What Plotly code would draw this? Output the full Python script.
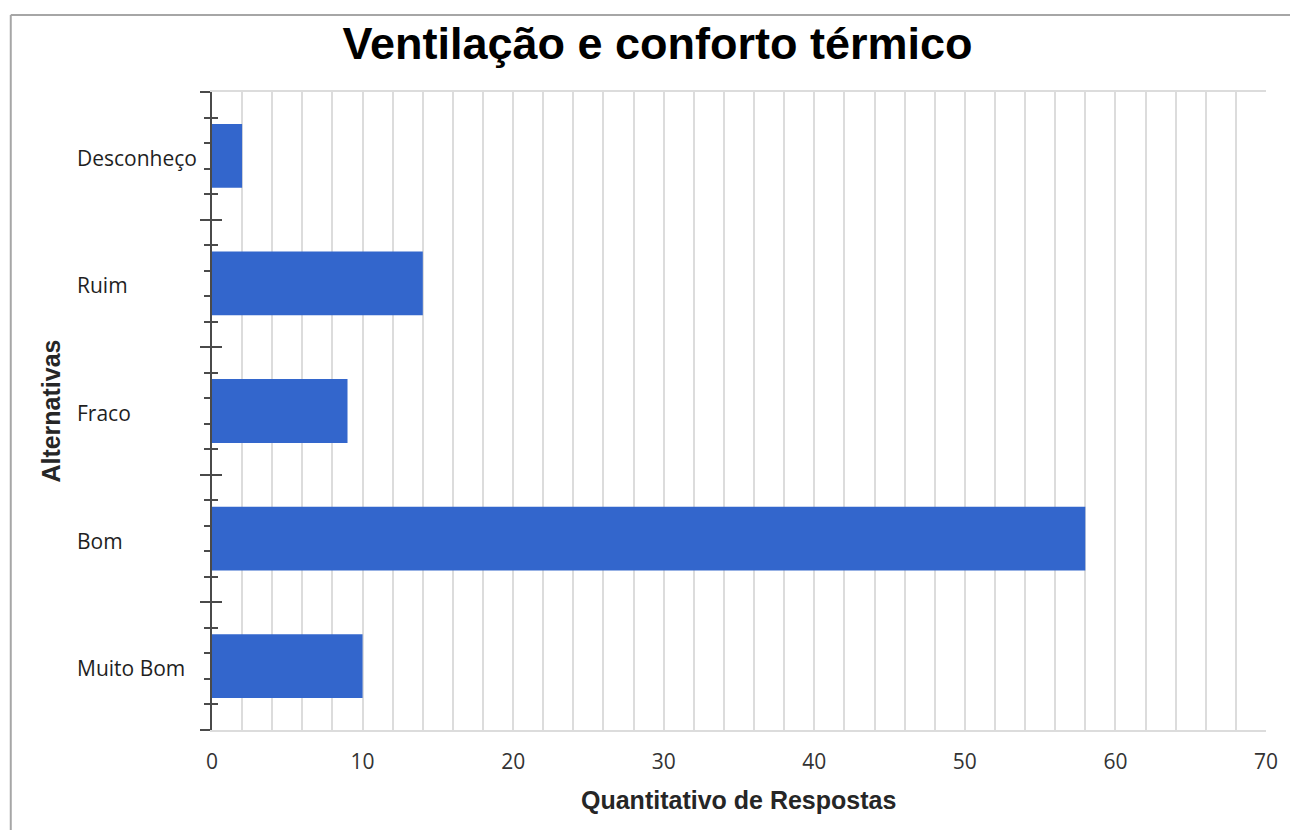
import plotly.graph_objects as go

categories = ["Desconheço", "Ruim", "Fraco", "Bom", "Muito Bom"]
values = [2, 14, 9, 58, 10]
x_tick_vals = [0, 10, 20, 30, 40, 50, 60, 70]
title_text = "Ventilação e conforto térmico"
x_title = "Quantitativo de Respostas"
y_title = "Alternativas"

W, H = 1290, 830
L, R, T, B = 212, 20, 92, 100
pw, ph = W - L - R, H - T - B

def px_x(p):
    return (p - L) / pw

def px_y(p):
    return (H - B - p) / ph

positions = list(range(len(categories)))

fig = go.Figure()
fig.add_trace(go.Bar(
    x=values, y=positions, orientation="h", width=0.5,
    marker=dict(color="#3366CC", line=dict(width=0)),
    hoverinfo="x+y", showlegend=False,
))

grid_col = "#dcdcdc"
axis_col = "#4a4a4a"
yrange = [len(categories) - 0.5, -0.5]

fig.update_layout(
    width=W, height=H,
    margin=dict(l=L, r=R, t=T, b=B),
    paper_bgcolor="white", plot_bgcolor="white",
    bargap=0.5,
    title=dict(text=title_text, x=(657.5) / W, xanchor="center",
               y=1 - 43 / H, yanchor="middle", yref="container",
               font=dict(family="Liberation Sans", size=45, color="black", weight="bold")),
    xaxis=dict(range=[0, 70], tickmode="array", tickvals=x_tick_vals,
               showgrid=True, gridcolor=grid_col, gridwidth=1.5,
               minor=dict(dtick=2, tick0=0, showgrid=True, gridcolor=grid_col, gridwidth=1.5),
               showline=True, linecolor=grid_col, linewidth=1.5, mirror=True,
               zeroline=False, ticks="", ticklabelstandoff=12,
               tickfont=dict(family="Open Sans", size=21, color="#333333")),
    yaxis=dict(range=yrange, tickmode="linear", tick0=-0.5, dtick=1,
               showticklabels=False, showgrid=False, zeroline=False,
               showline=True, linecolor=axis_col, linewidth=2,
               ticks="outside", ticklen=10, tickwidth=2, tickcolor=axis_col,
               minor=dict(tick0=-0.5, dtick=0.2, ticks="outside", ticklen=6,
                          tickwidth=2, tickcolor=axis_col, showgrid=False)),
    yaxis2=dict(range=yrange, overlaying="y", side="left", anchor="x",
                tickmode="linear", tick0=-0.5, dtick=1,
                showticklabels=False, showgrid=False, zeroline=False,
                showline=False, layer="below traces",
                ticks="inside", ticklen=10, tickwidth=2, tickcolor=axis_col,
                minor=dict(tick0=-0.5, dtick=0.2, ticks="inside", ticklen=6,
                           tickwidth=2, tickcolor=axis_col, showgrid=False)),
)

# invisible helper trace so the overlay axis is drawn
fig.add_trace(go.Scatter(x=[None], y=[None], yaxis="y2", showlegend=False, hoverinfo="skip"))

# category labels (left aligned)
for pos, cat in zip(positions, categories):
    fig.add_annotation(text=cat, x=px_x(74), xref="paper", xanchor="left",
                       y=pos, yref="y", yanchor="middle", yshift=-2, showarrow=False,
                       font=dict(family="Open Sans", size=21, color="#1f1f1f"))

# axis titles
fig.add_annotation(text=x_title, x=px_x(740), xref="paper", xanchor="center",
                   y=px_y(800), yref="paper", yanchor="middle", showarrow=False,
                   font=dict(family="Liberation Sans", size=25, color="#262626", weight="bold"))
fig.add_annotation(text=y_title, x=px_x(50), xref="paper", xanchor="center",
                   y=px_y(411), yref="paper", yanchor="middle", showarrow=False, textangle=-90,
                   font=dict(family="Liberation Sans", size=25, color="#262626", weight="bold"))

# outer frame lines (top and left)
fig.add_shape(type="line", xref="paper", yref="paper", x0=px_x(10), x1=px_x(W + 5),
              y0=px_y(15), y1=px_y(15), line=dict(color="#a6a6a6", width=2))
fig.add_shape(type="line", xref="paper", yref="paper", x0=px_x(10), x1=px_x(10),
              y0=px_y(15), y1=px_y(H + 5), line=dict(color="#a6a6a6", width=2))

fig.write_html("out.html", config={"displayModeBar": False},
               post_script="document.body.style.margin='0';document.body.style.overflow='hidden';")
